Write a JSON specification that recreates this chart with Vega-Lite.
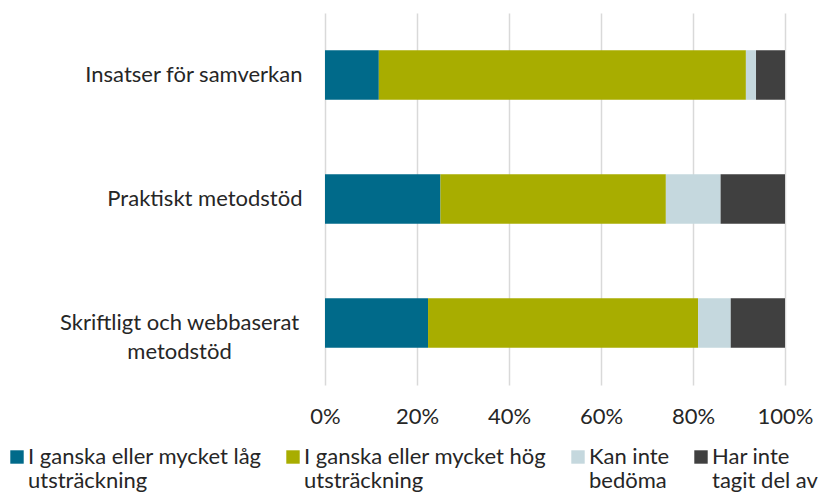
{
  "$schema": "https://vega.github.io/schema/vega-lite/v6.json",
  "autosize": "none",
  "width": 460,
  "height": 372,
  "padding": {"left": 325, "top": 13, "right": 34, "bottom": 112},
  "background": "white",
  "data": {
    "values": [
      {"omrade": "Insatser för samverkan", "svar": "I ganska eller mycket låg utsträckning", "ord": 1, "andel": 11.7},
      {"omrade": "Insatser för samverkan", "svar": "I ganska eller mycket hög utsträckning", "ord": 2, "andel": 79.8},
      {"omrade": "Insatser för samverkan", "svar": "Kan inte bedöma", "ord": 3, "andel": 2.2},
      {"omrade": "Insatser för samverkan", "svar": "Har inte tagit del av", "ord": 4, "andel": 6.3},
      {"omrade": "Praktiskt metodstöd", "svar": "I ganska eller mycket låg utsträckning", "ord": 1, "andel": 25.1},
      {"omrade": "Praktiskt metodstöd", "svar": "I ganska eller mycket hög utsträckning", "ord": 2, "andel": 49.0},
      {"omrade": "Praktiskt metodstöd", "svar": "Kan inte bedöma", "ord": 3, "andel": 11.9},
      {"omrade": "Praktiskt metodstöd", "svar": "Har inte tagit del av", "ord": 4, "andel": 14.0},
      {"omrade": "Skriftligt och webbaserat metodstöd", "svar": "I ganska eller mycket låg utsträckning", "ord": 1, "andel": 22.4},
      {"omrade": "Skriftligt och webbaserat metodstöd", "svar": "I ganska eller mycket hög utsträckning", "ord": 2, "andel": 58.7},
      {"omrade": "Skriftligt och webbaserat metodstöd", "svar": "Kan inte bedöma", "ord": 3, "andel": 7.1},
      {"omrade": "Skriftligt och webbaserat metodstöd", "svar": "Har inte tagit del av", "ord": 4, "andel": 11.8}
    ]
  },
  "mark": {"type": "bar"},
  "encoding": {
    "y": {
      "field": "omrade",
      "type": "nominal",
      "sort": ["Insatser för samverkan", "Praktiskt metodstöd", "Skriftligt och webbaserat metodstöd"],
      "scale": {"paddingInner": 0.6, "paddingOuter": 0.3},
      "axis": {
        "title": null,
        "ticks": false,
        "domain": false,
        "labelFont": "Lato",
        "labelFontSize": 22,
        "labelColor": "#262626",
        "labelLineHeight": 29,
        "labelLimit": 400,
        "labelExpr": "datum.value == 'Skriftligt och webbaserat metodstöd' ? ['Skriftligt och webbaserat', 'metodstöd'] : datum.label",
        "labelAlign": {"condition": {"test": "datum.value == 'Skriftligt och webbaserat metodstöd'", "value": "center"}, "value": "right"},
        "labelPadding": {"condition": {"test": "datum.value == 'Skriftligt och webbaserat metodstöd'", "value": 146}, "value": 23}
      }
    },
    "x": {
      "field": "andel",
      "type": "quantitative",
      "stack": "normalize",
      "scale": {"domain": [0, 1], "nice": false},
      "axis": {
        "title": null,
        "format": "%",
        "values": [0, 0.2, 0.4, 0.6, 0.8, 1],
        "ticks": false,
        "domain": false,
        "grid": true,
        "gridColor": "#d9d9d9",
        "gridWidth": 1.5,
        "labelFont": "Lato",
        "labelFontSize": 22,
        "labelColor": "#262626",
        "labelPadding": 21,
        "labelFlush": false
      }
    },
    "color": {
      "field": "svar",
      "type": "nominal",
      "scale": {
        "domain": ["I ganska eller mycket låg utsträckning", "I ganska eller mycket hög utsträckning", "Kan inte bedöma", "Har inte tagit del av"],
        "range": ["#006a8a", "#a8ad00", "#c5d8de", "#404040"]
      },
      "legend": {
        "title": null,
        "orient": "none",
        "legendX": -319,
        "legendY": 433,
        "direction": "horizontal",
        "columns": 4,
        "columnPadding": 20,
        "symbolType": "square",
        "symbolSize": 180,
        "symbolStrokeWidth": 0,
        "labelFont": "Lato",
        "labelFontSize": 22,
        "labelColor": "#262626",
        "labelLineHeight": 28,
        "labelOffset": 0,
        "labelLimit": 400,
        "labelBaseline": "alphabetic",
        "labelExpr": "datum.label == 'I ganska eller mycket låg utsträckning' ? ['I ganska eller mycket låg', 'utsträckning'] : datum.label == 'I ganska eller mycket hög utsträckning' ? ['I ganska eller mycket hög', 'utsträckning'] : datum.label == 'Kan inte bedöma' ? ['Kan inte', 'bedöma'] : ['Har inte', 'tagit del av']",
        "encode": {"labels": {"update": {"dy": {"value": 7}}}}
      }
    },
    "order": {"field": "ord", "type": "quantitative"}
  },
  "config": {"view": {"stroke": null}}
}
